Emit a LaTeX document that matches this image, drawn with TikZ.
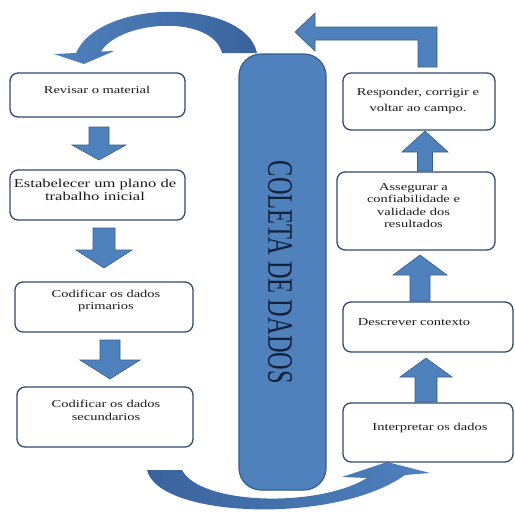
\documentclass[tikz,border=0pt]{standalone}
\usepackage{fontspec}
\setmainfont{Liberation Serif}
\usepackage{graphicx}
\usetikzlibrary{fit}
\definecolor{bfill}{HTML}{4F81BD}
\definecolor{bline}{HTML}{385D8A}
\definecolor{bdark}{HTML}{3A639D}
\definecolor{boxline}{HTML}{2E4A70}
\definecolor{txt}{HTML}{1A1A1A}
\definecolor{ptxt}{HTML}{16213A}
\tikzset{
  box/.style={draw=boxline, line width=1.3pt, rounded corners=8pt, fill=white, inner sep=0pt},
  pillar/.style={draw=bline, line width=1.2pt, rounded corners=22pt, fill=bfill, inner sep=0pt},
  blockarrow/.style={fill=bfill, draw=bline, line width=0.6pt, line join=miter},
  lbl/.style={inner sep=0pt, text=txt, font=\fontsize{10.5}{12.3}\selectfont},
  curvtop/.style={left color=bfill, right color=bdark, draw=none},
  curvbot/.style={left color=bdark, right color=bfill, draw=none},
}
\newcommand\wtxt[2][1.38]{\scalebox{#1}[1]{\begin{tabular}{@{}c@{}}#2\end{tabular}}}
% cx, start, headbase, tip, shaft half width, head half width
\newcommand\blockarr[6]{%
  \path[blockarrow] (#1-#5,#2) -- (#1+#5,#2) -- (#1+#5,#3) -- (#1+#6,#3) -- (#1,#4) -- (#1-#6,#3) -- (#1-#5,#3) -- cycle;}
\begin{document}
\begin{tikzpicture}[x=1pt,y=-1pt]
\useasboundingbox (0,0) rectangle (515,512);
\fill[white] (0,0) rectangle (515,512);

% curved arrows
\path[curvtop] (257,53) .. controls (245,-2) and (100,-2) .. (76,53) -- (54,54) -- (84,64) -- (114,51) -- (101,51.6) .. controls (120,20) and (212,14) .. (222,53) -- cycle;
\path[curvbot] (147,470) .. controls (158,518) and (335,525) .. (405,475) -- (430,473) -- (387,462) -- (342,477) -- (367,478) .. controls (318,508) and (200,505) .. (182,470) -- cycle;

% pillar
\node[pillar, fit={(239,54) (326,490)}] (P) {};
\node[inner sep=0pt, text=ptxt, rotate=-90, font=\fontsize{24.4}{26}\selectfont] (PT) at (280,272.5) {\scalebox{1}[1.47]{COLETA DE DADOS}};

% left boxes
\node[box, fit={(10,73) (185,117)}] (L1) {};
\node[lbl] (L1t) at (97,91) {\wtxt{Revisar o material}};
\node[box, fit={(10,170) (185,220)}] (L2) {};
\node[lbl, font=\fontsize{12}{13}\selectfont] (L2t) at (95,191) {\wtxt{Estabelecer um plano de\\trabalho inicial}};
\node[box, fit={(15,282) (193,332)}] (L3) {};
\node[lbl] (L3t) at (106,301) {\wtxt{Codificar os dados\\primarios}};
\node[box, fit={(17,387) (193,447)}] (L4) {};
\node[lbl] (L4t) at (106,411.5) {\wtxt{Codificar os dados\\secundarios}};

% right boxes
\node[box, fit={(343,73) (495,130)}] (R1) {};
\node[lbl, font=\fontsize{10.5}{16}\selectfont] (R1t) at (418,100) {\wtxt{Responder, corrigir e\\voltar ao campo.}};
\node[box, fit={(337,172) (495,250)}] (R2) {};
\node[lbl] (R2t) at (413.5,206.5) {\wtxt{Assegurar a\\confiabilidade e\\validade dos\\resultados}};
\node[box, fit={(343,302) (513,352)}] (R3) {};
\node[lbl] (R3t) at (414,323) {\wtxt{Descrever contexto}};
\node[box, fit={(343,403) (513,462)}] (R4) {};
\node[lbl] (R4t) at (430,428) {\wtxt{Interpretar os dados}};

% block arrows down
\blockarr{99}{127}{145}{160}{10}{27}
\blockarr{104}{228}{250}{268}{11}{28}
\blockarr{110}{340}{360}{379}{10}{30}
% block arrows up
\blockarr{425}{171}{152}{131}{7.5}{23}
\blockarr{420}{301}{275}{255}{10}{27}
\blockarr{426}{402}{377}{358}{11}{26}

% bent arrow top right
\path[blockarrow] (295,32) -- (315,13) -- (315,27) -- (437,27) -- (437,67) -- (418,67) -- (418,40) -- (315,40) -- (315,51) -- cycle;
\end{tikzpicture}
\end{document}
